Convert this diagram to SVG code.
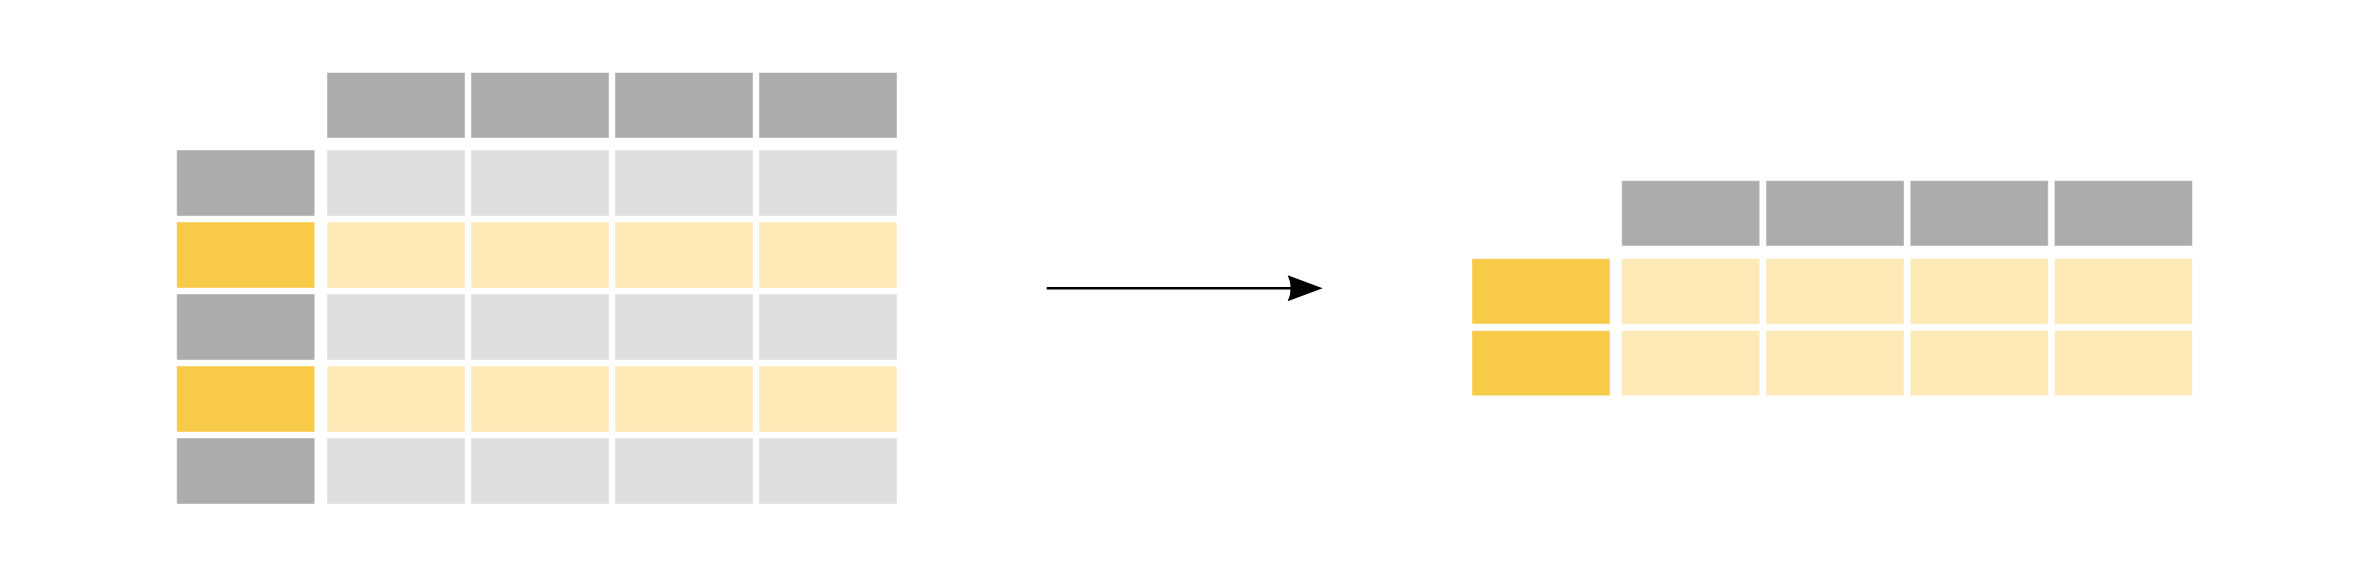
<svg xmlns="http://www.w3.org/2000/svg" width="2360" height="580" viewBox="0 0 2360 580">
<style>
.c{stroke:#ffffff;stroke-opacity:0.45;stroke-width:1}
.hd{fill:#ADACAA}
.lg{fill:#DEDEDE}
.y{fill:#F7CB48}
.ly{fill:#FDE9B6}
</style>
<defs>
<marker id="ah" markerUnits="userSpaceOnUse" markerWidth="40" markerHeight="30" refX="8.3" refY="14" orient="auto" viewBox="0 0 40 30">
<path d="M36,14 L1,1 Q7,14 1,27 Z" fill="#000"/>
</marker>
</defs>
<rect width="2360" height="580" fill="#ffffff"/>
<g id="table-left">
<g id="left-colheaders">
<rect class="c hd" x="327" y="72.5" width="138" height="65.5"/>
<rect class="c hd" x="471" y="72.5" width="138" height="65.5"/>
<rect class="c hd" x="615" y="72.5" width="138" height="65.5"/>
<rect class="c hd" x="759" y="72.5" width="138" height="65.5"/>
</g>
<g id="left-row1">
<rect class="c hd" x="176.7" y="150" width="138" height="66"/>
<rect class="c lg" x="327" y="150" width="138" height="66"/>
<rect class="c lg" x="471" y="150" width="138" height="66"/>
<rect class="c lg" x="615" y="150" width="138" height="66"/>
<rect class="c lg" x="759" y="150" width="138" height="66"/>
</g>
<g id="left-row2">
<rect class="c y" x="176.7" y="222" width="138" height="66"/>
<rect class="c ly" x="327" y="222" width="138" height="66"/>
<rect class="c ly" x="471" y="222" width="138" height="66"/>
<rect class="c ly" x="615" y="222" width="138" height="66"/>
<rect class="c ly" x="759" y="222" width="138" height="66"/>
</g>
<g id="left-row3">
<rect class="c hd" x="176.7" y="294" width="138" height="66"/>
<rect class="c lg" x="327" y="294" width="138" height="66"/>
<rect class="c lg" x="471" y="294" width="138" height="66"/>
<rect class="c lg" x="615" y="294" width="138" height="66"/>
<rect class="c lg" x="759" y="294" width="138" height="66"/>
</g>
<g id="left-row4">
<rect class="c y" x="176.7" y="366" width="138" height="66"/>
<rect class="c ly" x="327" y="366" width="138" height="66"/>
<rect class="c ly" x="471" y="366" width="138" height="66"/>
<rect class="c ly" x="615" y="366" width="138" height="66"/>
<rect class="c ly" x="759" y="366" width="138" height="66"/>
</g>
<g id="left-row5">
<rect class="c hd" x="176.7" y="438" width="138" height="66"/>
<rect class="c lg" x="327" y="438" width="138" height="66"/>
<rect class="c lg" x="471" y="438" width="138" height="66"/>
<rect class="c lg" x="615" y="438" width="138" height="66"/>
<rect class="c lg" x="759" y="438" width="138" height="66"/>
</g>
</g>
<g id="connectors">
<line x1="1046.7" y1="288.3" x2="1295" y2="288.3" stroke="#000" stroke-width="2.5" marker-end="url(#ah)"/>
</g>
<g id="table-right">
<g id="right-colheaders">
<rect class="c hd" x="1621.7" y="180.7" width="138" height="65.3"/>
<rect class="c hd" x="1766" y="180.7" width="138" height="65.3"/>
<rect class="c hd" x="1910.2" y="180.7" width="138" height="65.3"/>
<rect class="c hd" x="2054.4" y="180.7" width="138" height="65.3"/>
</g>
<g id="right-row1">
<rect class="c y" x="1472" y="258.7" width="138" height="65.3"/>
<rect class="c ly" x="1621.7" y="258.7" width="138" height="65.3"/>
<rect class="c ly" x="1766" y="258.7" width="138" height="65.3"/>
<rect class="c ly" x="1910.2" y="258.7" width="138" height="65.3"/>
<rect class="c ly" x="2054.4" y="258.7" width="138" height="65.3"/>
</g>
<g id="right-row2">
<rect class="c y" x="1472" y="330.7" width="138" height="65"/>
<rect class="c ly" x="1621.7" y="330.7" width="138" height="65"/>
<rect class="c ly" x="1766" y="330.7" width="138" height="65"/>
<rect class="c ly" x="1910.2" y="330.7" width="138" height="65"/>
<rect class="c ly" x="2054.4" y="330.7" width="138" height="65"/>
</g>
</g>
</svg>
